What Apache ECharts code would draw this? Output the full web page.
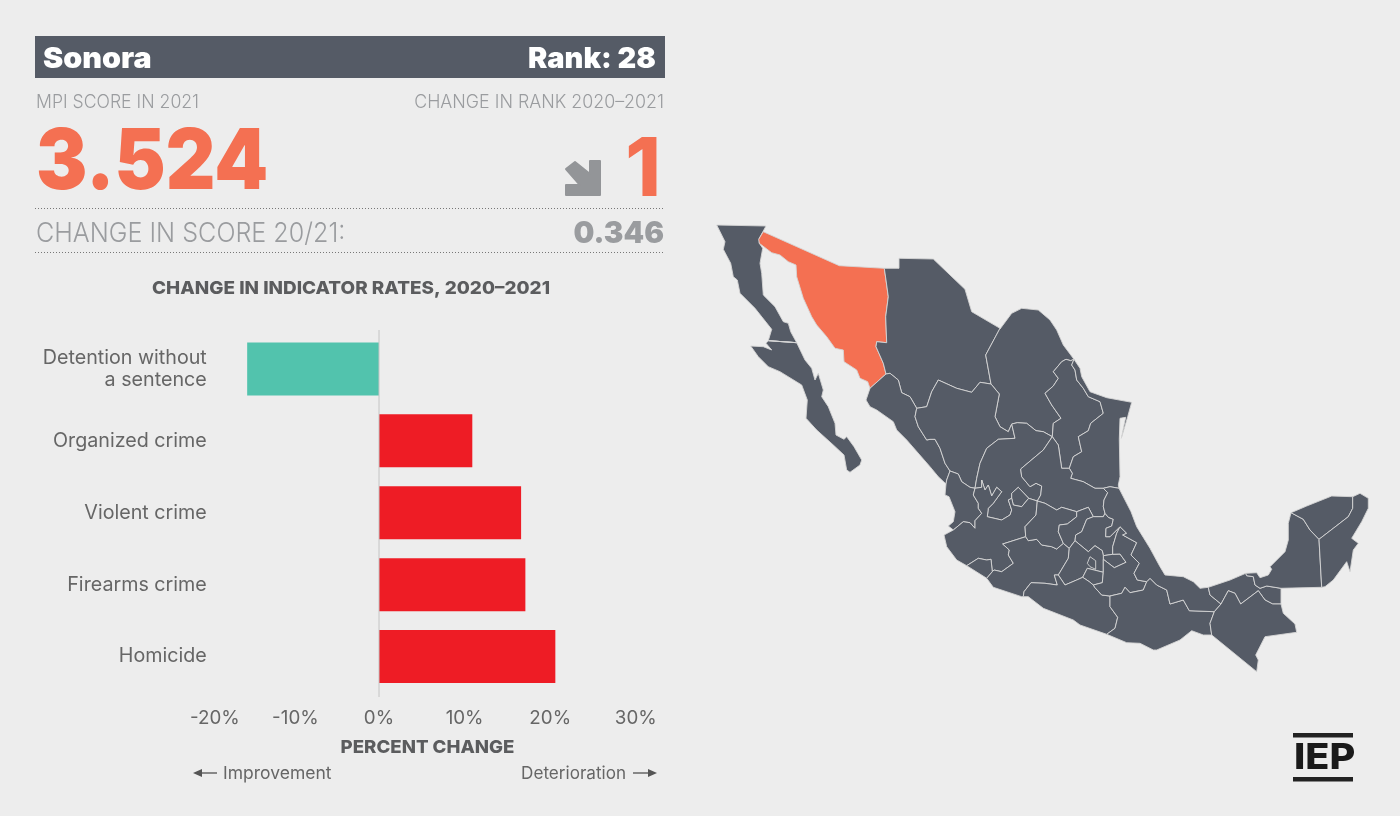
<!DOCTYPE html>
<html><head><meta charset="utf-8">
<style>html,body{margin:0;padding:0;background:#ededed}#c{width:1400px;height:816px}</style>
<script src="https://cdn.jsdelivr.net/npm/echarts@6/dist/echarts.min.js"></script>
</head><body><div id="c"></div>
<script>
// ---------- chart data ----------
const categories = ['Detention without\na sentence','Organized crime','Violent crime','Firearms crime','Homicide'];
const changes = [-15.4, 10.9, 16.6, 17.1, 20.6];
const axisTicks = [-20,-10,0,10,20,30];
const stateName = 'Sonora';
const scoreText = '3.524';
const rankText = 'Rank: 28';
const rankChange = '1';
const scoreChange = '0.346';

// ---------- Mexico outline ----------
const tr=(ox,oy,sx,sy)=>a=>{const o=[];for(let i=0;i<a.length;i+=2)o.push([+(ox+a[i]/sx).toFixed(1),+(oy+a[i+1]/sy).toFixed(1)]);return o;};
const c1=tr(700,210,3,3),c2=tr(930,400,3,3),c3=tr(1150,480,3,3),c7=tr(960,300,3,3);
const arcs={
bc_w:c1([205,392,215,358,165,295,120,250,112,210,100,200,92,160,70,118,75,95,50,45,198,48,178,85]),
bc_son:c1([178,85,178,100]),
bc_e:c1([178,100,188,115,180,160,185,190,190,255,225,290,250,335,265,340,272,365,290,398]),
bc_bcs:c1([290,398,205,392]),
bcs:c1([205,392,198,400,215,420,190,410,152,408,175,440,205,470,240,485,305,525,322,570,318,625,350,660,400,705,432,735,440,780,450,787,480,765,485,750,462,710,440,680,432,688,408,675,405,640,385,590,365,560,370,540,355,490,345,510,335,475,315,450,290,398]),
son_coast:c1([510,535,503,515,480,505,470,480,432,455,430,420,405,415,380,380,350,345,335,320,310,265,290,200,288,165,265,155,240,135,215,128,178,100,176,88,190,65,418,167,553,175]),
son_chi:c1([553,175,558,210,565,260,557,320,560,398,530,395,528,410,550,460,558,492]),
son_sin:c1([558,492,510,535]),
chi_n:c1([553,175,597,175,597,145,700,147,795,238,815,305,900,355]),
chi_coah:c1([900,355,857,435,873,522]),
chi_dgo:c1([873,522,840,517,815,547,770,535,715,510,695,545,680,590,650,595]),
chi_sin:c1([650,595,630,560,605,548,595,510,570,490,558,492]),
sin_coast:c1([510,535,498,570,510,590,530,600,580,635,590,660,620,690]).concat(c2([0,200,25,230,48,252])),
sin_dgo:c1([650,595,645,620,655,650,680,690]).concat(c2([0,118,15,118,30,145,45,190,60,213])),
sin_nay:c2([60,213,50,240,48,252]),
dgo_nay:c2([60,213,85,222,95,245,120,262,135,265]),
nay_coast:c2([48,252,45,285,57,290,75,335,70,365,55,378,70,390]),
nay_jal:c2([70,390,100,365,120,368,135,385,135,362,155,340,145,325,145,310,130,285,135,265]),
jal_coast:c2([70,390,42,405,50,440,80,480,110,497]),
jal_col:c2([110,497,145,475,170,480,183,478,187,515]),
col_coast:c2([110,497,170,535]),
mich_col:c2([170,535,187,515]),
jal_mich:c2([187,515,192,510,215,515,250,490,235,465,238,450,218,432,287,410]),
jal_gto:c2([287,410,285,380,318,345,322,303]),
jal_zac:c2([322,303,296,295]),
jal_ags:c2([296,295,275,320,250,315,245,295]),
ags_zac:c2([245,295,245,280,265,262,296,295]),
jal_zac2:c2([245,295,235,300,245,330,240,345,215,360,172,350,175,325,190,310,215,275,200,262,185,288,175,255,165,270,155,240,155,262,135,265]),
dgo_zac:c2([135,265,140,235,150,190,170,145,205,118,255,115,245,72]),
coah_zac:c2([245,72,262,68,290,70,318,92,340,95,367,110]),
zac_slp:c2([367,110,340,150,272,207,275,230,300,260,318,250,335,258,332,285,322,303]),
coah_dgo:c1([873,522,898,552,885,620,900,650,925,665,935,640]),
coah_n:c7([120,87,155,40,185,25,235,30,270,60,290,90,310,135,342,178]),
coah_nl:c7([342,178,332,182,318,178,305,185,280,215,295,235,280,258,255,280,275,315,303,355,280,370,277,410]),
nl_tam:c7([342,178,335,195,345,210,350,240,370,265,385,290,420,305,430,340,392,370,385,392,355,410,365,455,340,470,328,505]),
nl_slp:c7([277,410,295,435,305,505,328,505]),
tam_slp:c2([418,205,427,220,422,235,460,245,495,265,520,265]),
tam_ver:c2([520,265,540,260,567,265]),
tam_n:c7([342,178,360,205,365,230,390,275,440,293,515,307,503,350,490,395,484,415,497,352,480,355,478,418,480,530,475,555]).concat(c2([567,265])),
slp_gto:c2([322,303,345,310,380,330,395,322,440,335]),
slp_qro:c2([440,335,475,322,490,350]),
slp_hid:c2([490,350,520,350,525,340]),
slp_ver:c2([520,265,533,278,522,300,520,320,525,340]),
gto_qro:c2([440,335,440,350,412,372,388,375,385,395,400,430]),
mich_gto:c2([287,410,295,422,320,418,335,435,365,440,380,447,400,430]),
qro_hid:c2([490,350,470,358,455,395,437,405,435,422]),
qro_mex:c2([435,422,418,445]),
qro_mich:c2([418,445,400,430]),
hid_ver:c2([525,340,535,352,550,358,545,378,528,385,527,410,540,410,560,390,570,380]),
hid_pue:c2([570,380,560,400,548,440,548,463]),
hid_tlax:c2([548,463,520,467]),
hid_mex:c2([520,467,517,452,495,437,475,455,435,422]),
tlax_mex:c2([520,467,520,478]),
tlax_pue:c2([520,478,553,503,588,487,570,462,548,463]),
mex_pue:c2([520,478,520,517]),
mex_mor:c2([520,517,472,505,458,532]),
mex_gro:c2([385,525,405,555,440,540,458,532]),
mor_gro:c2([458,532,478,545,490,555]),
mor_pue:c2([520,517,517,548,490,555]),
mich_mex:c2([418,445,415,475,385,525]),
mich_gro:c2([385,525,373,525,382,555,345,550,303,548,282,575,280,590]),
mich_coast:c2([170,535,190,562,275,590,280,590]),
gro_coast:c2([280,590,295,590,340,625,430,660,450,675,530,703]),
gro_pue:c2([490,555,495,563,515,585,540,588]),
gro_oax:c2([540,588,540,620,563,652,555,685,530,703]),
ver_pue:c2([570,380,590,400,578,405,620,428,603,465,628,490,612,520,622,540,650,545]),
pue_oax:c2([540,588,575,580,585,562,600,578,640,570,650,545]),
ver_oax:c2([650,545,660,535]).concat(c3([20,315,50,330,55,350,60,372,100,360,118,392,193,395])),
oax_chis:c3([193,395,180,430,185,465]),
oax_coast:c2([530,703,590,728,630,730,670,750]).concat(c3([20,510,90,480,125,452,160,465,185,465])),
ver_coast:c2([567,265,585,300,603,335,620,380,660,445]).concat(c3([30,260,45,285,100,290,130,305,150,325,175,322])),
ver_tab:c3([175,322,180,345,213,372]),
ver_chis:c3([213,372,193,395]),
tab_coast:c3([175,322,240,300,287,280]),
tab_camp:c3([287,280,290,287,310,290,315,315,330,325,350,318,393,325]),
tab_e:c3([393,325,393,372]),
tab_chis:c3([213,372,235,332,255,340,272,372,325,332,345,360,368,372,393,372]),
chis_e:c3([393,372,400,400,435,432,440,457,345,470,317,525,325,540,320,575,185,465]),
camp_coast:c3([287,280,320,278,330,293,355,285,365,268,360,260,405,215,415,180,415,130,423,98]),
camp_yuc:c3([423,98,460,118,480,150,507,178]),
camp_qr:c3([507,178,515,322]),
camp_s:c3([515,322,393,325]),
yuc_coast:c3([423,98,470,78,545,48,608,50]),
yuc_qr:c3([608,50,608,85,595,110,550,145,507,178]),
qr_coast:c3([608,50,630,40,655,55,655,85,635,125,605,175,625,190,610,210,600,275,590,245,550,300,525,320,515,322])
};
const states={
'Baja California':'bc_w bc_son bc_e bc_bcs',
'Baja California Sur':'bcs -bc_bcs',
'Sonora':'son_coast son_chi son_sin',
'Chihuahua':'chi_n chi_coah chi_dgo chi_sin -son_chi',
'Coahuila':'coah_n coah_nl -coah_zac -coah_dgo -chi_coah',
'Nuevo Leon':'nl_tam -nl_slp -coah_nl',
'Tamaulipas':'tam_n -tam_ver -tam_slp -nl_tam',
'Sinaloa':'sin_coast -sin_nay -sin_dgo chi_sin son_sin',
'Durango':'chi_dgo sin_dgo dgo_nay dgo_zac -coah_dgo',
'Nayarit':'nay_coast nay_jal -dgo_nay sin_nay',
'Zacatecas':'dgo_zac coah_zac zac_slp jal_zac -ags_zac jal_zac2',
'Aguascalientes':'ags_zac jal_ags',
'San Luis Potosi':'zac_slp slp_gto slp_qro slp_hid -slp_ver -tam_slp -nl_slp',
'Jalisco':'nay_jal -jal_zac2 -jal_ags -jal_zac -jal_gto -jal_mich -jal_col -jal_coast',
'Colima':'jal_col -mich_col -col_coast',
'Michoacan':'mich_col jal_mich mich_gto -qro_mich mich_mex mich_gro -mich_coast',
'Guanajuato':'jal_gto slp_gto gto_qro -mich_gto',
'Queretaro':'slp_qro qro_hid qro_mex qro_mich -gto_qro',
'Hidalgo':'slp_hid hid_ver hid_pue hid_tlax hid_mex -qro_hid',
'Tlaxcala':'hid_tlax tlax_mex tlax_pue',
'Mexico':'-hid_mex tlax_mex mex_pue mex_mor -mex_gro -mich_mex -qro_mex',
'Ciudad de Mexico':'cdmx',
'Morelos':'mex_mor mor_gro -mor_pue',
'Guerrero':'-mich_gro mex_gro mor_gro gro_pue gro_oax -gro_coast',
'Puebla':'hid_pue -tlax_pue mex_pue mor_pue gro_pue pue_oax -ver_pue',
'Oaxaca':'-gro_oax pue_oax ver_oax oax_chis -oax_coast',
'Veracruz':'tam_ver ver_coast ver_tab ver_chis -ver_oax -ver_pue -hid_ver -slp_ver',
'Tabasco':'tab_coast tab_camp tab_e -tab_chis -ver_tab',
'Chiapas':'tab_chis chis_e -oax_chis -ver_chis',
'Campeche':'camp_coast camp_yuc camp_qr camp_s -tab_camp',
'Yucatan':'yuc_coast yuc_qr -camp_yuc',
'Quintana Roo':'qr_coast -camp_qr -yuc_qr'
};
arcs.cdmx=c2([480,470,497,482,497,508,480,500,472,490,480,470]);
const ring=spec=>{const out=[];spec.split(' ').forEach(k=>{const rev=k[0]==='-';let a=arcs[rev?k.slice(1):k].slice();if(rev)a.reverse();a.forEach(p=>out.push(p));});out.push(out[0]);return out;};
const features=Object.keys(states).map(n=>({type:'Feature',properties:{name:n},geometry:{type:'Polygon',coordinates:[ring(states[n])]}}));
echarts.registerMap('mexico',{type:'FeatureCollection',features});
let x0=1e9,y0=1e9,x1=-1e9,y1=-1e9;features.forEach(f=>f.geometry.coordinates[0].forEach(p=>{x0=Math.min(x0,p[0]);x1=Math.max(x1,p[0]);y0=Math.min(y0,p[1]);y1=Math.max(y1,p[1]);}));

// ---------- drawing ----------
const FONT='Inter';
const GREY='#9a9c9f',DARK='#5b5c5e',ORANGE='#f47052',SLATE='#555b66',LABEL='#666';
const T=(text,x,y,size,weight,fill,align,scaleX)=>({type:'text',x,y,originX:0,originY:0,scaleX:scaleX||1,silent:true,
  style:{text,fontFamily:FONT,fontSize:size,fontWeight:weight,fill,align:align||'left',verticalAlign:'middle'}});
const dotted=y=>({type:'line',silent:true,shape:{x1:35,y1:y,x2:664,y2:y},style:{stroke:'#777',lineWidth:1,lineDash:[1,2]}});
const graphics=[
 {type:'rect',silent:true,shape:{x:35,y:36,width:630,height:42},style:{fill:SLATE}},
 T(stateName,43,59.5,29,900,'#fff','left',1.05),
 T(rankText,656,59.5,29,900,'#fff','right',1.0),
 T('MPI SCORE IN 2021',36,103,18,300,GREY,'left',0.98),
 T('CHANGE IN RANK 2020–2021',664,103,18,300,GREY,'right',0.99),
 T(scoreText,36,163.5,84,900,ORANGE,'left',0.915),
 T(rankChange,661,172,81,800,ORANGE,'right'),
 {type:'polygon',silent:true,shape:{points:[[600,161],[590,161],[590,174],[575,162],[566,169],[580,185],[566,185],[566,195],[600,195]]},style:{fill:'#939598',stroke:'#939598',lineWidth:2,lineJoin:'round'}},
 dotted(208.5),
 T('CHANGE IN SCORE 20/21:',36,234,27,300,GREY,'left',0.93),
 T(scoreChange,664,234,30,900,GREY,'right',0.98),
 dotted(252.5),
 T('CHANGE IN INDICATOR RATES, 2020–2021',351,289,18,800,DARK,'center',1.05),
 T('PERCENT CHANGE',427.5,748,18,800,DARK,'center',1.035),
 T('Improvement',223,774,17.5,400,LABEL),
 T('Deterioration',626,774,17.1,400,LABEL,'right'),
 {type:'line',silent:true,shape:{x1:200,y1:773,x2:217,y2:773},style:{stroke:'#666',lineWidth:1.5}},
 {type:'polygon',silent:true,shape:{points:[[193,773],[202,769],[202,777]]},style:{fill:'#555'}},
 {type:'line',silent:true,shape:{x1:633,y1:773,x2:650,y2:773},style:{stroke:'#666',lineWidth:1.5}},
 {type:'polygon',silent:true,shape:{points:[[657,773],[648,769],[648,777]]},style:{fill:'#555'}},
 {type:'rect',silent:true,shape:{x:1293,y:733,width:60,height:4.5},style:{fill:'#222'}},
 {type:'rect',silent:true,shape:{x:1293,y:777,width:60,height:4.5},style:{fill:'#222'}},
 T('IEP',1294,758.5,36,800,'#1a1a1a','left',1.1)
];
const chart=echarts.init(document.getElementById('c'),null,{renderer:'canvas'});
const gridTop=333,gridH=359.5;
const tickFont={fontFamily:FONT,fontSize:18.8,color:LABEL};
chart.setOption({
 animation:false,backgroundColor:'#ededed',
 grid:{left:207.8,top:gridTop,width:428,height:gridH,containLabel:false},
 xAxis:{type:'value',min:axisTicks[0],max:axisTicks[axisTicks.length-1],interval:10,splitLine:{show:false},axisLine:{show:false},axisTick:{show:false},
   axisLabel:Object.assign({margin:16,
     formatter:v=>v===-20?'{a|-20%}':v===-10?'{b|-10%}':v+'%',
     rich:{a:Object.assign({padding:[0,0,0,14]},tickFont),b:Object.assign({padding:[0,0,0,4]},tickFont)}},tickFont)},
 yAxis:{type:'category',inverse:true,data:categories,position:'left',axisLine:{show:false,onZero:false},axisTick:{show:false},
   axisLabel:{margin:1,fontFamily:FONT,fontSize:19.7,lineHeight:22,color:LABEL,align:'right',padding:[0,0,3,0]}},
 series:[
  {type:'bar',barWidth:53,silent:true,
   data:changes.map(v=>({value:v,itemStyle:{color:v<0?'#52c3ad':'#ee1c25'}}))},
  {type:'map',map:'mexico',silent:true,projection:{project:p=>p,unproject:p=>p},
   left:x0,top:y0,width:x1-x0,height:y1-y0,
   label:{show:false},emphasis:{disabled:true},select:{disabled:true},
   itemStyle:{areaColor:SLATE,borderColor:'#d6d6d6',borderWidth:0.9},
   data:[{name:stateName,itemStyle:{areaColor:ORANGE}}]}
 ]
});
const zeroX=chart.convertToPixel({xAxisIndex:0},0);
graphics.unshift({type:'line',silent:true,z:10,shape:{x1:zeroX,y1:gridTop-3,x2:zeroX,y2:gridTop+gridH+4.5},style:{stroke:'#c4c4c4',lineWidth:1}});
chart.setOption({graphic:{elements:graphics}});
</script></body></html>
